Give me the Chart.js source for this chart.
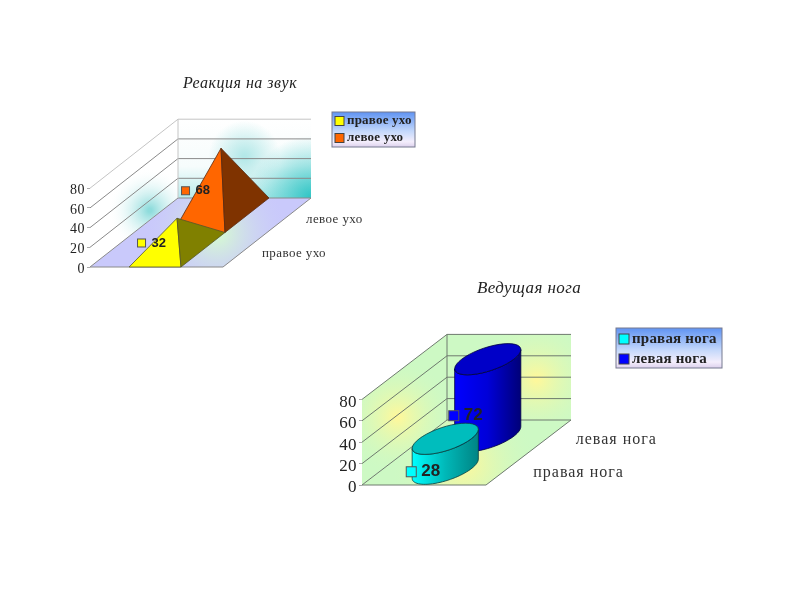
<!DOCTYPE html>
<html>
<head>
<meta charset="utf-8">
<script src="https://cdn.jsdelivr.net/npm/chart.js@4"></script>
<style>
  body { margin: 0; background: #fff; }
  canvas { position: absolute; filter: blur(0.7px); }
  #ears { left: 60px; top: 70px; }
  #legs { left: 320px; top: 270px; }
</style>
</head>
<body>
<canvas id="ears" width="360" height="220"></canvas>
<canvas id="legs" width="418" height="230"></canvas>
<script>
// Данные графиков
const earTitle = "Реакция на звук";
const earCategories = ["правое ухо", "левое ухо"];
const earRightValues = [32, null];
const earLeftValues = [null, 68];

const legTitle = "Ведущая нога";
const legCategories = ["правая нога", "левая нога"];
const legRightValues = [28, null];
const legLeftValues = [null, 72];

const yMax = 80;
const yStep = 20;

function polygon(ctx, pts) {
  ctx.beginPath();
  pts.forEach((p, i) => (i ? ctx.lineTo(p.x, p.y) : ctx.moveTo(p.x, p.y)));
  ctx.closePath();
}

function filled(ctx, pts, fill, stroke) {
  polygon(ctx, pts);
  ctx.fillStyle = fill;
  ctx.fill();
  if (stroke) {
    ctx.strokeStyle = stroke;
    ctx.lineWidth = 0.8;
    ctx.stroke();
  }
}

// Точка трёхмерной сцены: доля ширины, глубина (0..1), значение
function projector(chart, look) {
  const area = chart.chartArea;
  const y = chart.scales.y;
  return (xFrac, depth, value) => ({
    x: area.left + xFrac * area.width + depth * look.depthX,
    y: y.getPixelForValue(value) - depth * look.depthY,
  });
}

function drawPyramid(ctx, p, depth, value, color, look) {
  const hw = look.markHalfWidth;
  const hd = look.markHalfDepth;
  const c = look.markCenter;
  const apex = p(c, depth, value);
  const fl = p(c - hw, depth - hd, 0);
  const fr = p(c + hw, depth - hd, 0);
  const br = p(c + hw, depth + hd, 0);
  filled(ctx, [fl, fr, apex], color.front, color.line);
  filled(ctx, [fr, br, apex], color.side, color.line);
}

function ringPoints(c, a, b, look, from, to) {
  const pts = [];
  const n = 40;
  for (let i = 0; i <= n; i++) {
    const t = from + ((to - from) * i) / n;
    pts.push({
      x: c.x + a * Math.cos(t) + look.depthX * b * Math.sin(t),
      y: c.y - look.depthY * b * Math.sin(t),
    });
  }
  return pts;
}

function drawCylinder(ctx, p, depth, value, color, look, chart) {
  const c = look.markCenter;
  const a = look.markHalfWidth * chart.chartArea.width;
  const b = look.markHalfDepth;
  const base = p(c, depth, 0);
  const top = p(c, depth, value);
  const t0 = Math.atan2(look.depthX * b, a);
  const lower = ringPoints(base, a, b, look, t0, t0 - Math.PI);
  const upper = ringPoints(top, a, b, look, t0 - Math.PI, t0);
  const g = ctx.createLinearGradient(lower[lower.length - 1].x, 0, lower[0].x, 0);
  g.addColorStop(0, color.front);
  g.addColorStop(0.5, color.mid);
  g.addColorStop(1, color.side);
  filled(ctx, lower.concat(upper), g, color.line);
  filled(ctx, ringPoints(top, a, b, look, 0, Math.PI * 2), color.top, color.line);
}

function clippedFill(ctx, pts, paint) {
  ctx.save();
  polygon(ctx, pts);
  ctx.clip();
  paint();
  ctx.restore();
}

function glow(ctx, chart, at, radius, inner, outer) {
  const r = ctx.createRadialGradient(at.x, at.y, 2, at.x, at.y, radius);
  r.addColorStop(0, inner);
  r.addColorStop(1, outer);
  ctx.fillStyle = r;
  ctx.fillRect(0, 0, chart.width, chart.height);
}

function drawRoom(chart, look) {
  const ctx = chart.ctx;
  const p = projector(chart, look);
  const yScale = chart.scales.y;
  const backWall = [p(0, 1, 0), p(1, 1, 0), p(1, 1, yMax), p(0, 1, yMax)];
  const sideWall = [p(0, 0, 0), p(0, 1, 0), p(0, 1, yMax), p(0, 0, yMax)];
  const floor = [p(0, 0, 0), p(1, 0, 0), p(1, 1, 0), p(0, 1, 0)];
  clippedFill(ctx, backWall, () => look.paintBack(ctx, chart, p));
  clippedFill(ctx, sideWall, () => look.paintSide(ctx, chart, p));
  clippedFill(ctx, floor, () => look.paintFloor(ctx, chart, p));

  ctx.lineWidth = 1;
  yScale.ticks.forEach((t) => {
    ctx.strokeStyle = t.value === yMax ? look.topLine : look.gridLine;
    ctx.beginPath();
    const a = p(0, 0, t.value);
    const b = p(0, 1, t.value);
    const c = p(1, 1, t.value);
    ctx.moveTo(a.x, a.y);
    ctx.lineTo(b.x, b.y);
    ctx.lineTo(c.x, c.y);
    ctx.stroke();
  });
  ctx.strokeStyle = look.topLine;
  ctx.beginPath();
  let q = p(0, 1, 0);
  ctx.moveTo(q.x, q.y);
  q = p(0, 1, yMax);
  ctx.lineTo(q.x, q.y);
  ctx.stroke();
  ctx.strokeStyle = look.gridLine;
  ctx.beginPath();
  q = p(0, 0, 0);
  ctx.moveTo(q.x, q.y);
  q = p(1, 0, 0);
  ctx.lineTo(q.x, q.y);
  q = p(1, 1, 0);
  ctx.lineTo(q.x, q.y);
  ctx.stroke();
}

function drawLegend(chart, look) {
  const ctx = chart.ctx;
  const b = look.legend;
  const g = ctx.createLinearGradient(0, b.y, 0, b.y + b.h);
  g.addColorStop(0, "#5f93f2");
  g.addColorStop(0.55, "#c4d8fb");
  g.addColorStop(0.85, "#f4eefc");
  g.addColorStop(1, "#dcd0ec");
  ctx.fillStyle = g;
  ctx.fillRect(b.x, b.y, b.w, b.h);
  ctx.strokeStyle = "#777a90";
  ctx.lineWidth = 1;
  ctx.strokeRect(b.x, b.y, b.w, b.h);
  ctx.font = look.legendFont;
  ctx.letterSpacing = look.legendSpacing;
  ctx.textAlign = "left";
  ctx.textBaseline = "middle";
  chart.data.datasets.forEach((ds, i) => {
    const y = b.y + b.rowStart + i * b.rowGap;
    ctx.fillStyle = ds.backgroundColor;
    ctx.strokeStyle = "#444";
    ctx.fillRect(b.x + 3, y - b.box / 2, b.box, b.box);
    ctx.strokeRect(b.x + 3, y - b.box / 2, b.box, b.box);
    ctx.fillStyle = "#222";
    ctx.fillText(ds.label, b.x + b.box + 6, y);
  });
  ctx.letterSpacing = "0px";
}

const room3d = {
  id: "room3d",
  afterLayout(chart) {
    // заголовок центрируем по всему холсту, а не по области с отступом
    chart.titleBlock.left = 0;
    chart.titleBlock.right = chart.width;
  },
  beforeDraw(chart, args, look) {
    chart.ctx.letterSpacing = look.titleSpacing;
  },
  beforeDatasetsDraw(chart, args, look) {
    chart.ctx.letterSpacing = "0px";
    drawRoom(chart, look);
  },
  // Столбцы библиотеки заменяем объёмными фигурами в тех же координатах
  beforeDatasetDraw() {
    return false;
  },
  afterDatasetsDraw(chart, args, look) {
    const ctx = chart.ctx;
    const p = projector(chart, look);
    const area = chart.chartArea;
    const marks = [];
    chart.data.datasets.forEach((ds, i) => {
      chart.getDatasetMeta(i).data.forEach((el, j) => {
        if (ds.data[j] == null) return;
        marks.push({ ds, value: ds.data[j], depth: (el.x - area.left) / area.width, style: look.colors[i] });
      });
    });
    // от дальней фигуры к ближней
    marks.sort((a, b) => b.depth - a.depth);
    marks.forEach((m) => {
      if (look.shape === "pyramid") drawPyramid(ctx, p, m.depth, m.value, m.style, look);
      else drawCylinder(ctx, p, m.depth, m.value, m.style, look, chart);
    });
    marks.forEach((m) => {
      const base = p(look.markCenter, m.depth, 0);
      const top = p(look.markCenter, m.depth, m.value);
      const x = base.x + look.labelDx;
      const y = (base.y + top.y) / 2 + look.labelDy;
      const s = look.labelBox;
      ctx.fillStyle = m.ds.backgroundColor;
      ctx.strokeStyle = "#555";
      ctx.lineWidth = 1;
      ctx.fillRect(x, y - s / 2, s, s);
      ctx.strokeRect(x, y - s / 2, s, s);
      ctx.font = look.labelFont;
      ctx.fillStyle = "#222";
      ctx.textAlign = "left";
      ctx.textBaseline = "middle";
      ctx.fillText(String(m.value), x + s + look.labelGap, y);
    });
    // подписи оси глубины
    ctx.font = look.depthFont;
    ctx.letterSpacing = look.depthSpacing;
    ctx.fillStyle = "#333";
    ctx.textAlign = "left";
    ctx.textBaseline = "middle";
    chart.data.labels.forEach((label, j) => {
      const depth = (chart.scales.x.getPixelForValue(j) - area.left) / area.width;
      const e = p(1, depth, 0);
      ctx.fillText(label, e.x + look.depthLabelDx, e.y + look.depthLabelDy);
    });
    ctx.letterSpacing = "0px";
    drawLegend(chart, look);
  },
};

function makeChart(id, title, labels, series, look, fonts, padding, titlePadding, axisWidth) {
  return new Chart(document.getElementById(id), {
    type: "bar",
    data: {
      labels,
      datasets: series.map((s) => ({
        label: s.label,
        data: s.data,
        backgroundColor: s.color,
      })),
    },
    options: {
      responsive: false,
      animation: false,
      layout: { padding },
      plugins: {
        legend: { display: false },
        tooltip: { enabled: false },
        title: {
          display: true,
          text: title,
          color: "#222",
          font: fonts.title,
          padding: titlePadding,
        },
        room3d: look,
      },
      scales: {
        x: { display: false, stacked: true },
        y: {
          min: 0,
          max: yMax,
          ticks: {
            stepSize: yStep,
            autoSkip: false,
            color: "#222",
            font: fonts.tick,
            padding: 2,
            labelOffset: fonts.tickShift,
          },
          grid: { drawOnChartArea: false, color: "#aaa", tickLength: 3 },
          border: { display: false },
          afterFit(scale) {
            scale.width = axisWidth;
          },
        },
      },
    },
    plugins: [room3d],
  });
}

const serif = "'Liberation Serif', serif";
const sans = "'Liberation Sans', sans-serif";

makeChart(
  "ears",
  earTitle,
  earCategories,
  [
    { label: earCategories[0], data: earRightValues, color: "#ffff00" },
    { label: earCategories[1], data: earLeftValues, color: "#ff6600" },
  ],
  {
    shape: "pyramid",
    depthX: 88,
    depthY: 69,
    markCenter: 0.489,
    markHalfWidth: 0.195,
    markHalfDepth: 0.25,
    gridLine: "#8a8a8a",
    topLine: "#c4c4c4",
    colors: [
      { front: "#ffff00", side: "#808000", line: "#55552a" },
      { front: "#ff6600", side: "#7f3300", line: "#5a2a10" },
    ],
    paintBack(ctx, chart, p) {
      const g = ctx.createLinearGradient(0, p(0, 1, yMax).y, 0, p(0, 1, 0).y);
      g.addColorStop(0, "#ffffff");
      g.addColorStop(0.6, "#f6fcfc");
      g.addColorStop(1, "#b8ecec");
      ctx.fillStyle = g;
      ctx.fillRect(0, 0, chart.width, chart.height);
      glow(ctx, chart, p(0.5, 1, 42), 36, "#b4e8e8", "rgba(180,232,232,0)");
      glow(ctx, chart, p(1, 1, 0), 62, "#33c6c6", "rgba(80,205,205,0)");
    },
    paintSide(ctx, chart, p) {
      ctx.fillStyle = "#fff";
      ctx.fillRect(0, 0, chart.width, chart.height);
      glow(ctx, chart, p(0.02, 0.65, 12), 42, "#8fdcdc", "rgba(255,255,255,0)");
    },
    paintFloor(ctx, chart, p) {
      ctx.fillStyle = "#c9c9fb";
      ctx.fillRect(0, 0, chart.width, chart.height);
      glow(ctx, chart, p(0.62, 0.5, 0), 70, "#d6fcd0", "rgba(205,205,250,0)");
    },
    legend: { x: 272, y: 42, w: 83, h: 35, rowStart: 9, rowGap: 17, box: 9 },
    legendFont: `bold 13px ${serif}`,
    legendSpacing: "0.2px",
    titleSpacing: "0.5px",
    labelDx: -39.5,
    labelDy: 9,
    labelBox: 8,
    labelGap: 6,
    labelFont: `bold 13px ${sans}`,
    depthFont: `13px ${serif}`,
    depthSpacing: "0.4px",
    depthLabelDx: 17,
    depthLabelDy: 4,
  },
  {
    title: { family: serif, size: 16, style: "italic", weight: "normal" },
    tick: { family: serif, size: 14 },
    tickShift: 2,
  },
  { top: 0, left: 0, right: 197, bottom: 23 },
  { top: 4, bottom: 95 },
  30
);

makeChart(
  "legs",
  legTitle,
  legCategories,
  [
    { label: legCategories[0], data: legRightValues, color: "#00ffff" },
    { label: legCategories[1], data: legLeftValues, color: "#0000ff" },
  ],
  {
    shape: "cylinder",
    depthX: 85,
    depthY: 65,
    markCenter: 0.5,
    markHalfWidth: 0.21,
    markHalfDepth: 0.24,
    gridLine: "#6e7a6e",
    topLine: "#6e7a6e",
    colors: [
      { front: "#00ffff", mid: "#00b8b8", side: "#008484", top: "#00bdbd", line: "#0a3d3d" },
      { front: "#0000ff", mid: "#0000d8", side: "#000078", top: "#0000c8", line: "#000040" },
    ],
    paintBack(ctx, chart, p) {
      ctx.fillStyle = "#cdf9c4";
      ctx.fillRect(0, 0, chart.width, chart.height);
      glow(ctx, chart, p(0.72, 1, 38), 62, "#fdf89c", "rgba(205,249,196,0)");
    },
    paintSide(ctx, chart, p) {
      ctx.fillStyle = "#cdf9c4";
      ctx.fillRect(0, 0, chart.width, chart.height);
      glow(ctx, chart, p(0, 0.42, 38), 58, "#fdf89c", "rgba(205,249,196,0)");
    },
    paintFloor(ctx, chart, p) {
      ctx.fillStyle = "#cdf9c4";
      ctx.fillRect(0, 0, chart.width, chart.height);
      glow(ctx, chart, p(0.6, 0.32, 0), 74, "#fcf89c", "rgba(205,249,196,0)");
    },
    legend: { x: 296, y: 58, w: 106, h: 40, rowStart: 11, rowGap: 20, box: 10 },
    legendFont: `bold 15px ${serif}`,
    legendSpacing: "0.2px",
    titleSpacing: "0.4px",
    labelDx: -39,
    labelDy: 18,
    labelBox: 10,
    labelGap: 5,
    labelFont: `bold 17px ${sans}`,
    depthFont: `16px ${serif}`,
    depthSpacing: "1px",
    depthLabelDx: 26,
    depthLabelDy: 4,
  },
  {
    title: { family: serif, size: 17, style: "italic", weight: "normal" },
    tick: { family: serif, size: 17 },
    tickShift: 3,
  },
  { top: 0, left: 0, right: 252, bottom: 15 },
  { top: 8, bottom: 101 },
  42
);
</script>
</body>
</html>
